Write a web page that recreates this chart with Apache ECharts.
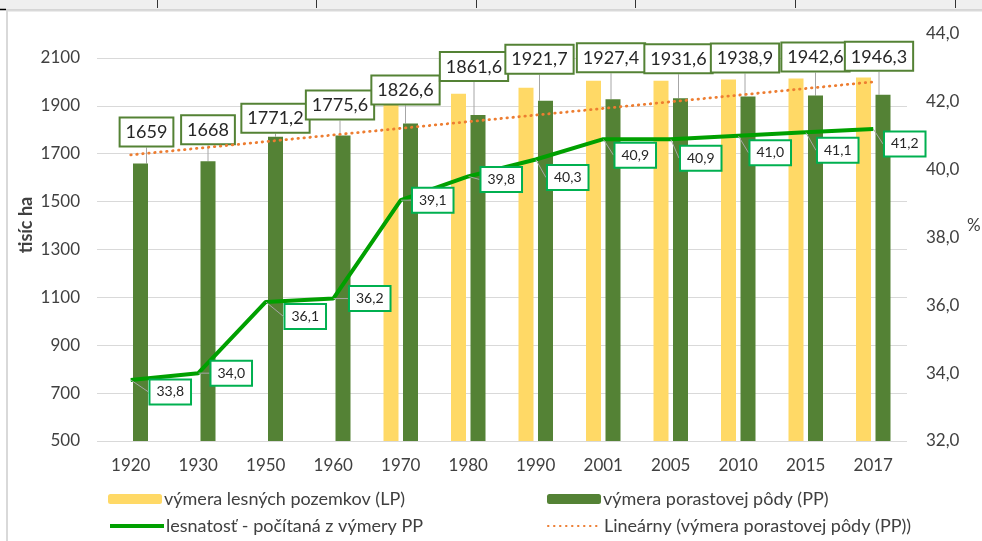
<!DOCTYPE html>
<html>
<head>
<meta charset="utf-8">
<script src="https://cdn.jsdelivr.net/npm/echarts@6/dist/echarts.min.js"></script>
<style>
html,body{margin:0;padding:0;background:#fff;}
#chart{width:982px;height:541px;}
</style>
</head>
<body>
<div id="chart"></div>
<script>
// ---- data ----
const categories = ['1920','1930','1950','1960','1970','1980','1990','2001','2005','2010','2015','2017'];
const lpValues = [null, null, null, null, 1915, 1950, 1975, 2005, 2005, 2010, 2014, 2018];
const ppValues = [1659, 1668, 1771.2, 1775.6, 1826.6, 1861.6, 1921.7, 1927.4, 1931.6, 1938.9, 1942.6, 1946.3];
const forestPct = [33.8, 34.0, 36.1, 36.2, 39.1, 39.8, 40.3, 40.9, 40.9, 41.0, 41.1, 41.2];
const trendEnds = [1695, 2000];
const leftTicks = [500, 700, 900, 1100, 1300, 1500, 1700, 1900, 2100];
const rightTicks = [32, 34, 36, 38, 40, 42, 44];

const seriesNames = ['výmera lesných pozemkov (LP)', 'výmera porastovej pôdy (PP)',
  'lesnatosť - počítaná z výmery PP', 'Lineárny (výmera porastovej pôdy (PP))'];

// ---- label layout (pixel offsets of the boxed labels) ----
const ppLabelDx = [6, 0, 0, -3, -5, -4, -6, -2, -2, -3, 0, -4];
const ppLabelLift = [18, 18, 5, 17, 20, 35, 28, 28, 26, 25, 25, 25];
const pctLabelDx = [39.5, 33, 39.5, 36.5, 32, 33, 32, 32, 30, 32, 32, 31.5];
const pctLabelDy = [12, 0, 14.5, 0, 0, 3, 18, 16, 19, 17, 18, 15];

const FONT = 'Lato, "Open Sans", sans-serif';
const TXT = '#404040';
const comma = v => String(v).replace('.', ',');
const comma1 = v => Number(v).toFixed(1).replace('.', ',');

const last = categories.length - 1;
const trendData = categories.map((c, i) => i === 0 ? trendEnds[0] : (i === last ? trendEnds[1] : null));

function legendAt(name, left, top, extra) {
  return Object.assign({
    data: [name], left: left, top: top, itemWidth: 54, itemHeight: 10,
    textStyle: {color: TXT, fontSize: 18, fontFamily: FONT, padding: [0, 0, 0, -3]},
    selectedMode: false, padding: 0
  }, extra || {});
}

const chart = echarts.init(document.getElementById('chart'), null, {renderer: 'canvas'});
chart.setOption({
  animation: false,
  backgroundColor: '#ffffff',
  textStyle: {fontFamily: FONT},
  grid: {left: 97, right: 75, top: 34, bottom: 100, containLabel: false},
  graphic: [
    {type: 'rect', shape: {x: 0, y: 0, width: 982, height: 9}, style: {fill: '#efefef'}, silent: true},
    {type: 'line', shape: {x1: 0, y1: 9.5, x2: 982, y2: 9.5}, style: {stroke: '#d0d0d0', lineWidth: 1}, silent: true},
    {type: 'line', shape: {x1: 157.5, y1: 0, x2: 157.5, y2: 8}, style: {stroke: '#333', lineWidth: 1}, silent: true},
    {type: 'line', shape: {x1: 316.5, y1: 0, x2: 316.5, y2: 8}, style: {stroke: '#333', lineWidth: 1}, silent: true},
    {type: 'line', shape: {x1: 476.5, y1: 0, x2: 476.5, y2: 8}, style: {stroke: '#333', lineWidth: 1}, silent: true},
    {type: 'line', shape: {x1: 635.5, y1: 0, x2: 635.5, y2: 8}, style: {stroke: '#333', lineWidth: 1}, silent: true},
    {type: 'line', shape: {x1: 795.5, y1: 0, x2: 795.5, y2: 8}, style: {stroke: '#333', lineWidth: 1}, silent: true},
    {type: 'line', shape: {x1: 955.5, y1: 0, x2: 955.5, y2: 8}, style: {stroke: '#333', lineWidth: 1}, silent: true},
    {type: 'line', shape: {x1: 0, y1: 9.5, x2: 6, y2: 9.5}, style: {stroke: '#000', lineWidth: 1.5}, silent: true},
    {type: 'line', shape: {x1: 7, y1: 10.5, x2: 982, y2: 10.5}, style: {stroke: '#d9d9d9', lineWidth: 2}, silent: true},
    {type: 'line', shape: {x1: 7, y1: 10, x2: 7, y2: 541}, style: {stroke: '#d9d9d9', lineWidth: 2}, silent: true},
    {type: 'text', left: 967, top: 217, style: {text: '%', fill: TXT, font: '17px ' + FONT}, silent: true},
    {type: 'text', x: 26, y: 225, rotation: Math.PI / 2, silent: true,
      style: {text: 'tisíc ha', fill: TXT, font: 'bold 18px ' + FONT, align: 'center', verticalAlign: 'middle'}}
  ],
  legend: [
    legendAt(seriesNames[0], 108, 490),
    legendAt(seriesNames[1], 547, 490),
    legendAt(seriesNames[2], 108, 517, {itemStyle: {opacity: 0}, lineStyle: {width: 4}}),
    legendAt(seriesNames[3], 547, 517, {itemStyle: {opacity: 0}})
  ],
  xAxis: {
    type: 'category', data: categories,
    axisLine: {show: false}, axisTick: {show: false},
    axisLabel: {color: TXT, fontSize: 17, fontFamily: FONT, margin: 16}
  },
  yAxis: [
    {
      type: 'value', min: 500, max: 2200, interval: 100,
      axisLine: {show: false},
      axisTick: {show: false, customValues: leftTicks},
      axisLabel: {color: TXT, fontSize: 17, fontFamily: FONT, margin: 17, customValues: leftTicks,
        formatter: v => String(v)},
      splitLine: {show: true, lineStyle: {color: '#d9d9d9', width: 1}}
    },
    {
      type: 'value', min: 32, max: 44, interval: 2,
      axisLine: {show: false}, axisTick: {show: false},
      axisLabel: {color: TXT, fontSize: 17, fontFamily: FONT, margin: 19, formatter: comma1, customValues: rightTicks},
      splitLine: {show: false}
    }
  ],
  series: [
    {
      name: seriesNames[0], type: 'bar', yAxisIndex: 0, data: lpValues,
      barWidth: 15, barGap: '30%',
      itemStyle: {color: '#ffd966'},
      z: 2
    },
    {
      name: seriesNames[1], type: 'bar', yAxisIndex: 0, data: ppValues,
      barWidth: 15, barGap: '30%',
      itemStyle: {color: '#548235'},
      label: {
        show: true, position: 'top', distance: 0,
        formatter: p => comma(p.value),
        color: '#262626', fontSize: 18, fontFamily: FONT,
        backgroundColor: '#ffffff', borderColor: '#548235', borderWidth: 2,
        padding: [5, 5, 4, 5]
      },
      labelLine: {show: true, lineStyle: {color: '#a6a6a6', width: 1}},
      labelLayout: p => ({dx: ppLabelDx[p.dataIndex], dy: -ppLabelLift[p.dataIndex]}),
      z: 3
    },
    {
      name: seriesNames[2], type: 'line', yAxisIndex: 1, data: forestPct,
      symbol: 'circle', symbolSize: 0.5, showSymbol: true,
      itemStyle: {color: '#00a000'},
      lineStyle: {color: '#00a000', width: 4},
      label: {
        show: true, position: 'inside',
        formatter: p => comma1(p.value),
        color: '#262626', fontSize: 14, fontFamily: FONT,
        backgroundColor: '#ffffff', borderColor: '#00b050', borderWidth: 2,
        padding: [5, 6, 4, 6]
      },
      labelLine: {show: true, lineStyle: {color: '#a6a6a6', width: 1}},
      labelLayout: p => ({dx: pctLabelDx[p.dataIndex], dy: pctLabelDy[p.dataIndex]}),
      z: 5
    },
    {
      name: seriesNames[3], type: 'line', yAxisIndex: 0, data: trendData,
      connectNulls: true, symbol: 'none', showSymbol: false,
      itemStyle: {color: '#ed7d31'},
      lineStyle: {color: '#ed7d31', width: 2.8, type: [0.5, 5.5], cap: 'round'},
      z: 4
    }
  ]
});
</script>
</body>
</html>
